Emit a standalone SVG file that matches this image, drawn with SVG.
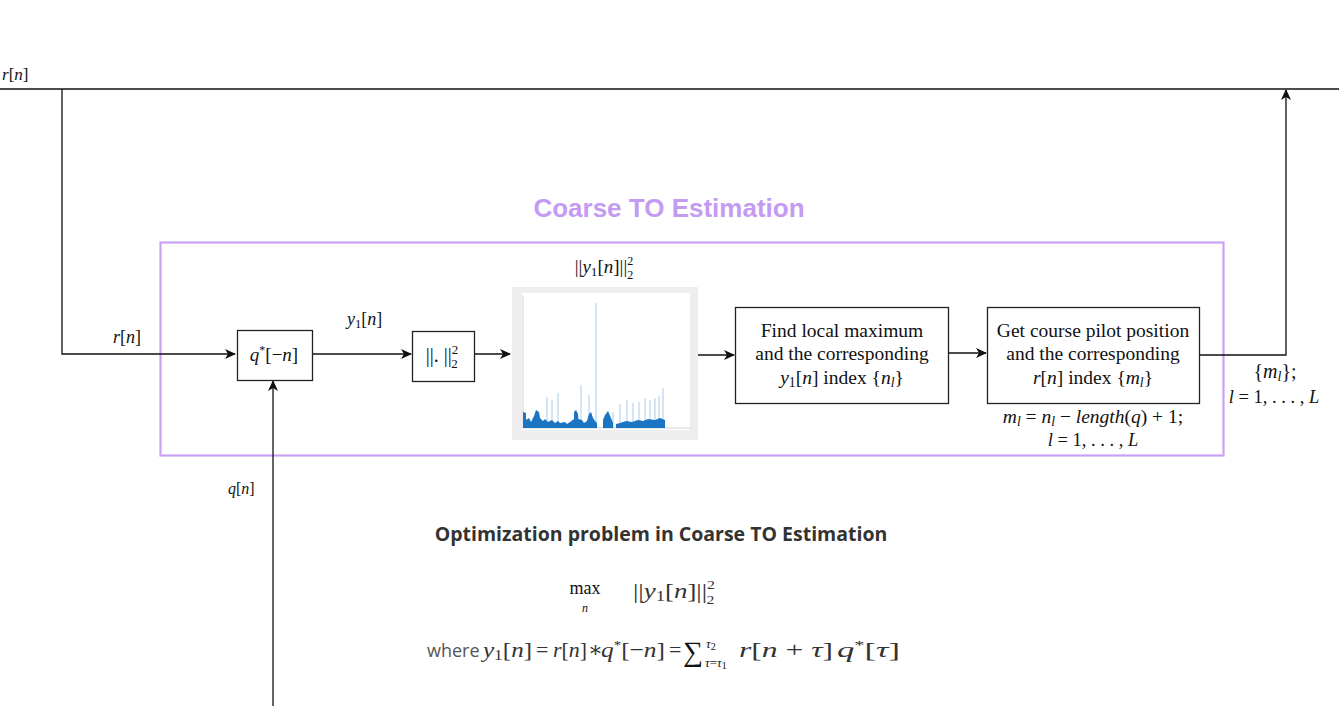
<svg xmlns="http://www.w3.org/2000/svg" width="1339" height="706" viewBox="0 0 1339 706">
<style>
.m{font-family:"Liberation Serif","DejaVu Serif",serif;font-style:italic;fill:#111}
.r{font-family:"Liberation Serif","DejaVu Serif",serif;fill:#111}
.u{font-style:normal}
.bx{fill:#fff;stroke:#222;stroke-width:1.3}
.ln{fill:none;stroke:#111;stroke-width:1.3}
.sub{font-size:70%}
.f{font-size:22px;fill:#333}
</style>
<defs>
<marker id="ah" markerWidth="12" markerHeight="10" refX="10" refY="5" orient="auto" markerUnits="userSpaceOnUse">
<path d="M0,0 L11,5 L0,10 L3,5 Z" fill="#111"/>
</marker>
</defs>
<rect width="1339" height="706" fill="#fff"/>

<g id="frame">
<rect x="160.5" y="242.5" width="1063" height="213" fill="none" stroke="#c9a2f5" stroke-width="2.2"/>
<text x="669" y="217" text-anchor="middle" font-family="Liberation Sans,Arial,sans-serif" font-weight="bold" font-size="26" fill="#c39bf2">Coarse TO Estimation</text>
</g>

<g id="connectors">
<path class="ln" d="M0,89 H1339"/>
<path class="ln" d="M62,89 V354 H235" marker-end="url(#ah)"/>
<path class="ln" d="M273,706 V381" marker-end="url(#ah)"/>
<path class="ln" d="M312,354 H411" marker-end="url(#ah)"/>
<path class="ln" d="M474,354 H510" marker-end="url(#ah)"/>
<path class="ln" d="M698,355 H734" marker-end="url(#ah)"/>
<path class="ln" d="M948,353 H986" marker-end="url(#ah)"/>
<path class="ln" d="M1199,355 H1286 V90" marker-end="url(#ah)"/>
</g>

<g id="labels">
<text class="m" x="2" y="80" font-size="17">r<tspan class="u">[</tspan>n<tspan class="u">]</tspan></text>
<text class="m" x="113" y="343" font-size="18">r<tspan class="u">[</tspan>n<tspan class="u">]</tspan></text>
<text class="m" x="347" y="325" font-size="18">y<tspan class="sub u" dy="3">1</tspan><tspan class="u" dy="-3">[</tspan>n<tspan class="u">]</tspan></text>
<text class="m" x="228" y="494" font-size="16">q<tspan class="u">[</tspan>n<tspan class="u">]</tspan></text>
<text class="m" x="1275" y="378" font-size="20" text-anchor="middle"><tspan class="u">{</tspan>m<tspan class="sub" dy="3">l</tspan><tspan class="u" dy="-3">};</tspan></text>
<text class="m" x="1274" y="403" font-size="18.5" text-anchor="middle">l <tspan class="u">= 1, . . . , </tspan>L</text>
<text class="m" x="1093" y="423" font-size="19.5" text-anchor="middle">m<tspan class="sub" dy="3">l</tspan><tspan class="u" dy="-3"> = </tspan>n<tspan class="sub" dy="3">l</tspan><tspan class="u" dy="-3"> − </tspan>length<tspan class="u">(</tspan>q<tspan class="u">) + 1;</tspan></text>
<text class="m" x="1093" y="446" font-size="18.5" text-anchor="middle">l <tspan class="u">= 1, . . . , </tspan>L</text>
</g>

<g id="node-matched-filter">
<rect class="bx" x="237.5" y="330.5" width="75" height="50"/>
<text class="m" x="274" y="361" font-size="19" text-anchor="middle">q<tspan class="u" font-size="12" dy="-7">*</tspan><tspan class="u" dy="7">[−</tspan>n<tspan class="u">]</tspan></text>
</g>

<g id="node-norm">
<rect class="bx" x="412.5" y="331.5" width="62" height="50"/>
<text class="r" x="442" y="362" font-size="20" text-anchor="middle" fill="#555">||. ||<tspan font-size="13" dy="-8">2</tspan><tspan font-size="13" dx="-7" dy="14">2</tspan></text>
</g>

<g id="node-plot">
<text class="m" x="604" y="273" font-size="19" text-anchor="middle" fill="#444"><tspan class="u">||</tspan>y<tspan class="sub u" dy="3">1</tspan><tspan class="u" dy="-3">[</tspan>n<tspan class="u">]||</tspan><tspan class="u" font-size="12" dy="-8">2</tspan><tspan class="u" font-size="12" dx="-6" dy="14">2</tspan></text>
<rect x="512" y="287" width="186" height="153" fill="#eeeeee"/>
<rect x="522" y="293" width="168" height="137" fill="#fff"/>
<path d="M523,296 V428 H692" fill="none" stroke="#c8c8c8" stroke-width="0.8"/>
<g stroke="#aacbea" stroke-width="1">
<path d="M547,428 V397 M552,428 V400 M558,428 V393 M581,428 V385 M589,428 V395 M596,428 V303 M613,428 V412 M620,428 V404 M627,428 V400 M633,428 V403 M639,428 V402 M645,428 V398 M650,428 V400 M655,428 V398 M659,428 V396 M663,428 V388"/>
</g>
<g fill="#1b75c3">
<path d="M523,428 V412 L526,413 V420 L529,418 L531,422 L534,416 L536,410 L539,412 L540,418 L543,421 L545,419 L548,422 L552,420 L555,423 L558,421 L560,423 L565,422 L567,424 L570,422 L574,419 L576,415 L578,419 L582,420 L584,423 L587,421 L589,414 L591,412 L593,418 L595,421 L597,423 V428 Z"/>
<path d="M603,428 V420 L605,415 L608,411 L611,418 L613,423 V428 Z"/>
<path d="M616,428 V424 L620,423 L626,421 L632,422 L638,420 L643,421 L648,419 L655,420 L660,418 L665,420 V428 Z"/>
<path d="M574,428 V412 L576,410 L578,414 L579,428 Z"/>
</g>
</g>

<g id="node-local-max">
<rect class="bx" x="735.5" y="307.5" width="213" height="96"/>
<text class="r" x="842" y="337" font-size="19.5" text-anchor="middle">Find local maximum</text>
<text class="r" x="842" y="360" font-size="19.5" text-anchor="middle">and the corresponding</text>
<text class="m" x="842" y="384" font-size="19.5" text-anchor="middle">y<tspan class="sub u" dy="3">1</tspan><tspan class="u" dy="-3">[</tspan>n<tspan class="u">] index {</tspan>n<tspan class="sub" dy="3">l</tspan><tspan class="u" dy="-3">}</tspan></text>
</g>

<g id="node-pilot">
<rect class="bx" x="987.5" y="307.5" width="212" height="96"/>
<text class="r" x="1093" y="337" font-size="19.5" text-anchor="middle">Get course pilot position</text>
<text class="r" x="1093" y="360" font-size="19.5" text-anchor="middle">and the corresponding</text>
<text class="m" x="1093" y="384" font-size="19.5" text-anchor="middle">r<tspan class="u">[</tspan>n<tspan class="u">] index {</tspan>m<tspan class="sub" dy="3">l</tspan><tspan class="u" dy="-3">}</tspan></text>
</g>

<g id="optimization">
<text x="661" y="541" text-anchor="middle" font-family="Open Sans,Liberation Sans,sans-serif" font-weight="bold" font-size="19.5" fill="#333">Optimization problem in Coarse TO Estimation</text>
<text class="r" x="585" y="594" font-size="18" text-anchor="middle" fill="#333">max</text>
<text class="m" x="585" y="612" font-size="12" text-anchor="middle" fill="#333">n</text>
<text class="m f" x="633" y="598" textLength="82" lengthAdjust="spacingAndGlyphs"><tspan class="u">||</tspan>y<tspan class="sub u" dy="3">1</tspan><tspan class="u" dy="-3">[</tspan>n<tspan class="u">]||</tspan><tspan class="u" font-size="13" dy="-9">2</tspan><tspan class="u" font-size="13" dx="-7" dy="15">2</tspan></text>
<text x="427" y="657" font-family="Open Sans,Liberation Sans,sans-serif" font-size="18" fill="#555">where</text>
<text class="m f" x="483" y="657" textLength="49" lengthAdjust="spacingAndGlyphs">y<tspan class="sub u" dy="3">1</tspan><tspan class="u" dy="-3">[</tspan>n<tspan class="u">]</tspan></text>
<text class="r f" x="536" y="657">=</text>
<text class="m f" x="553" y="657" textLength="34" lengthAdjust="spacingAndGlyphs">r<tspan class="u">[</tspan>n<tspan class="u">]</tspan></text>
<text class="r f" x="588" y="657">∗</text>
<text class="m f" x="601" y="657" textLength="64" lengthAdjust="spacingAndGlyphs">q<tspan class="u" font-size="13" dy="-8">*</tspan><tspan class="u" dy="8">[−</tspan>n<tspan class="u">]</tspan></text>
<text class="r f" x="669" y="657">=</text>
<text class="r" x="683" y="661" font-size="28" fill="#333">∑</text>
<text class="m" x="706" y="648" font-size="13" fill="#333">τ<tspan class="u" font-size="10" dy="2">2</tspan></text>
<text class="m" x="705" y="667" font-size="13" fill="#333">τ<tspan class="u">=</tspan>τ<tspan class="u" font-size="10" dy="2">1</tspan></text>
<text class="m f" x="739" y="657" textLength="94" lengthAdjust="spacingAndGlyphs">r<tspan class="u">[</tspan>n<tspan class="u"> + </tspan>τ<tspan class="u">]</tspan></text>
<text class="m f" x="837" y="657" textLength="63" lengthAdjust="spacingAndGlyphs">q<tspan class="u" font-size="13" dy="-8">*</tspan><tspan class="u" dy="8">[</tspan>τ<tspan class="u">]</tspan></text>
</g>
</svg>
